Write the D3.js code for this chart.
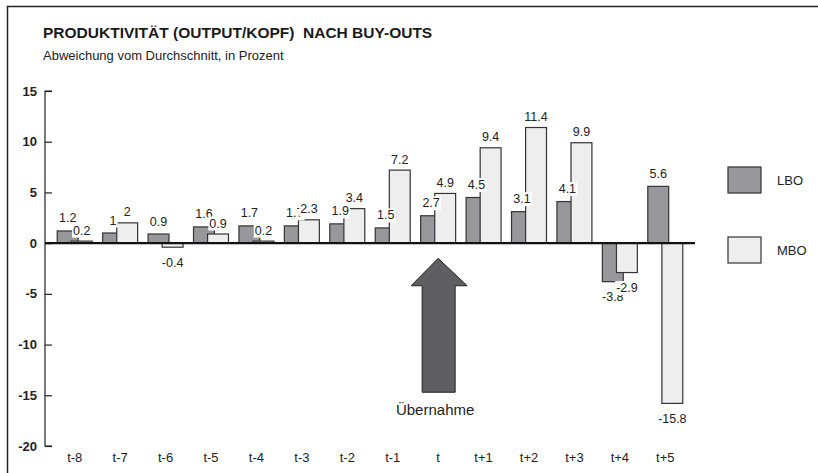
<!DOCTYPE html>
<html>
<head>
<meta charset="utf-8">
<script src="https://cdn.jsdelivr.net/npm/d3@7"></script>
<style>
  body { margin: 0; background: #fff; }
  svg { font-family: "Liberation Sans", Arial, sans-serif; }
</style>
</head>
<body>
<div id="chart"></div>
<script>
// data
var categories = ["t-8","t-7","t-6","t-5","t-4","t-3","t-2","t-1","t","t+1","t+2","t+3","t+4","t+5"];
var lbo = [1.2, 1, 0.9, 1.6, 1.7, 1.7, 1.9, 1.5, 2.7, 4.5, 3.1, 4.1, -3.8, 5.6];
var mbo = [0.2, 2, -0.4, 0.9, 0.2, 2.3, 3.4, 7.2, 4.9, 9.4, 11.4, 9.9, -2.9, -15.8];
var yTicks = [15, 10, 5, 0, -5, -10, -15, -20];
var seriesNames = ["LBO", "MBO"];

var W = 818, H = 473;
var colors = {LBO: "#98989c", MBO: "#eeeeee"};

var svg = d3.select("#chart").append("svg")
  .attr("width", W).attr("height", H);

// frame
svg.append("rect")
  .attr("x", 7.5).attr("y", 6.5)
  .attr("width", W + 20).attr("height", H + 20)
  .attr("fill", "none").attr("stroke", "#222").attr("stroke-width", 1.5);

svg.append("text").attr("x", 43).attr("y", 38)
  .attr("font-size", 15.5).attr("font-weight", "bold").attr("fill", "#1a1a1a")
  .style("white-space", "pre")
  .text("PRODUKTIVITÄT (OUTPUT/KOPF)  NACH BUY-OUTS");
svg.append("text").attr("x", 43).attr("y", 60)
  .attr("font-size", 13).attr("fill", "#222")
  .text("Abweichung vom Durchschnitt, in Prozent");

var x = d3.scaleBand().domain(categories).range([52, 688]).padding(0);
var y = d3.scaleLinear().domain([-20, 15]).range([446, 91]);

var step = x.step();
var bw = step * 0.46;        // bar width
var off = step * 0.31;       // MBO bar shifted right, overlaps LBO

// y axis: ticks pointing inward
var yAxis = svg.append("g").attr("transform", "translate(45,0)")
  .call(d3.axisRight(y).tickValues(yTicks).tickSize(7).tickFormat(""));
yAxis.select(".domain").attr("d", "M7," + y(15) + "H0V" + y(-20) + "H7")
  .attr("stroke", "#222").attr("stroke-width", 1.2);
yAxis.selectAll(".tick line").attr("stroke", "#222").attr("stroke-width", 1.2);

svg.append("g").selectAll("text").data(yTicks).join("text")
  .attr("x", 37).attr("y", function(d) { return y(d) + 4.5; })
  .attr("text-anchor", "end").attr("font-size", 13).attr("font-weight", "bold")
  .attr("fill", "#222")
  .text(function(d) { return d; });

// category labels
svg.append("g").selectAll("text").data(categories).join("text")
  .attr("x", function(d) { return x(d) + step / 2; })
  .attr("y", 462)
  .attr("text-anchor", "middle").attr("font-size", 13).attr("fill", "#222")
  .text(function(d) { return d; });

// bars
var rows = categories.map(function(c, i) { return {cat: c, LBO: lbo[i], MBO: mbo[i]}; });
var bars = svg.append("g");
rows.forEach(function(r) {
  seriesNames.forEach(function(s, j) {
    var v = r[s];
    bars.append("rect")
      .attr("x", x(r.cat) + step / 2 - (bw + off) / 2 + j * off)
      .attr("y", y(Math.max(0, v)))
      .attr("width", bw)
      .attr("height", Math.abs(y(v) - y(0)))
      .attr("fill", colors[s]).attr("stroke", "#333").attr("stroke-width", 1.2);
  });
});

// zero line
svg.append("line")
  .attr("x1", 45).attr("x2", 695).attr("y1", y(0)).attr("y2", y(0))
  .attr("stroke", "#111").attr("stroke-width", 2.2);

// value labels with white boxes (MBO boxes drawn last, as in the original)
var labels = svg.append("g");
seriesNames.forEach(function(s, j) {
  rows.forEach(function(r) {
    var v = r[s];
    var cx = x(r.cat) + step / 2 - (bw + off) / 2 + j * off + bw / 2;
    var cy = v >= 0 ? y(v) - (j === 0 ? 13 : 11) : y(v) + 15;
    var g = labels.append("g");
    var t = g.append("text").attr("x", cx).attr("y", cy + 4.5)
      .attr("text-anchor", "middle").attr("font-size", 12.5).attr("fill", "#222")
      .text(v);
    var b = t.node().getBBox();
    g.insert("rect", "text")
      .attr("x", b.x - 1).attr("y", b.y)
      .attr("width", b.width + 2).attr("height", b.height)
      .attr("fill", "#fff");
  });
});

// arrow marking the takeover
var ax = x("t") + step / 2;
var arrowPts = [
  [ax, y(-1.5)], [ax + 29, y(-4.2)], [ax + 17, y(-4.2)], [ax + 17, y(-14.7)],
  [ax - 16, y(-14.7)], [ax - 16, y(-4.2)], [ax - 27, y(-4.2)]
];
svg.append("path")
  .attr("d", d3.line()(arrowPts) + "Z")
  .attr("fill", "#5f5f63").attr("stroke", "#222").attr("stroke-width", 1);
svg.append("text").attr("x", ax - 3).attr("y", 415)
  .attr("text-anchor", "middle").attr("font-size", 15).attr("fill", "#222")
  .text("Übernahme");

// legend
var leg = svg.append("g");
seriesNames.forEach(function(s, j) {
  leg.append("rect").attr("x", 728).attr("y", 167 + j * 70)
    .attr("width", 33).attr("height", 26)
    .attr("fill", colors[s]).attr("stroke", "#333").attr("stroke-width", 1.2);
  leg.append("text").attr("x", 777).attr("y", 185 + j * 70)
    .attr("font-size", 13).attr("fill", "#222").text(s);
});
</script>
</body>
</html>
